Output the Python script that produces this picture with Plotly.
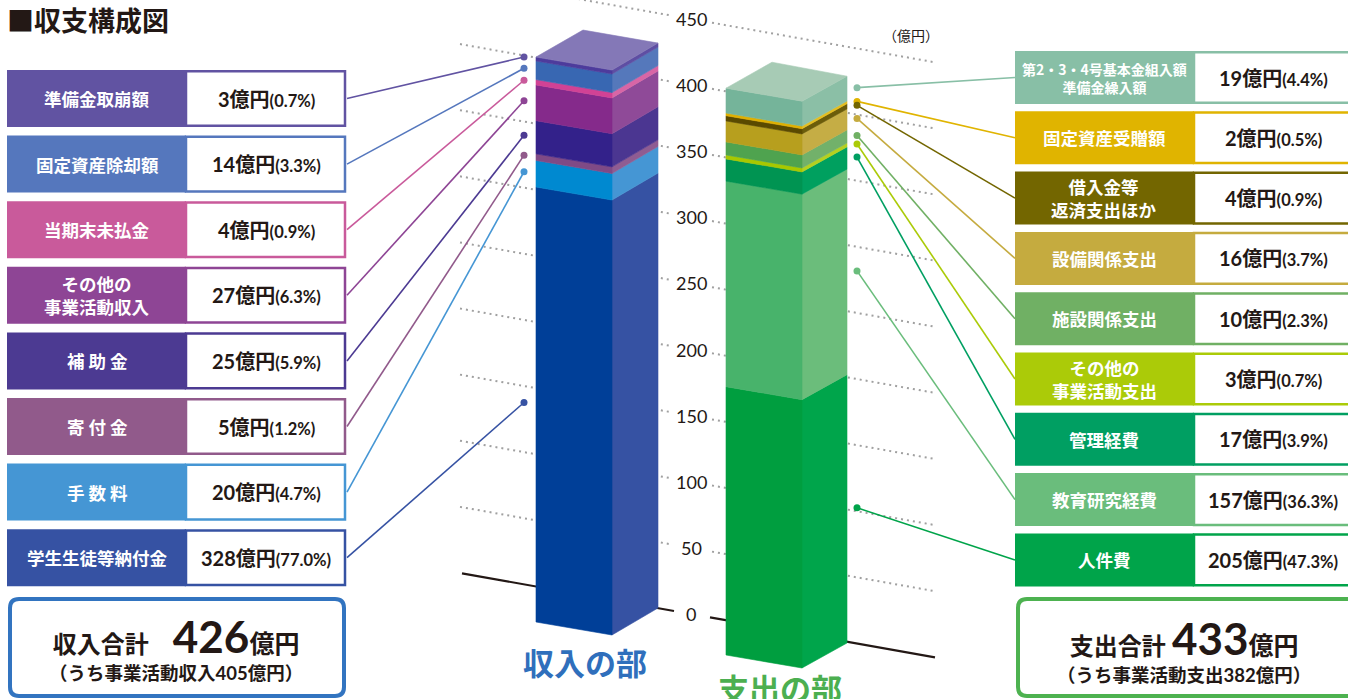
import plotly.graph_objects as go

# ---------------- data ----------------
income_labels = ["学生生徒等納付金", "手 数 料", "寄 付 金", "補 助 金",
                 "その他の<br>事業活動収入", "当期末未払金", "固定資産除却額", "準備金取崩額"]
income_values = [328, 20, 5, 25, 27, 4, 14, 3]
income_pct = ["77.0%", "4.7%", "1.2%", "5.9%", "6.3%", "0.9%", "3.3%", "0.7%"]

expense_labels = ["人件費", "教育研究経費", "管理経費", "その他の<br>事業活動支出", "施設関係支出",
                  "設備関係支出", "借入金等<br>返済支出ほか", "固定資産受贈額",
                  "第2・3・4号基本金組入額<br>準備金繰入額"]
expense_values = [205, 157, 17, 3, 10, 16, 4, 2, 19]
expense_pct = ["47.3%", "36.3%", "3.9%", "0.7%", "2.3%", "3.7%", "0.9%", "0.5%", "4.4%"]

income_total = 426
income_operating = 405
expense_total = 433
expense_operating = 382

tick_values = [0, 50, 100, 150, 200, 250, 300, 350, 400, 450]
unit_label = "（億円）"
title_text = "■収支構成図"
income_name = "収入の部"
expense_name = "支出の部"

# ---------------- styles ----------------
income_front = ["#003f98", "#0089d0", "#7f4a86", "#33218a", "#852a8b", "#d14295", "#3867b2", "#4d3b9c"]
income_side = ["#3652a3", "#4596d4", "#8f5c92", "#4b3691", "#8f4a98", "#d866a6", "#5578bb", "#5e4ea3"]
income_box = ["#3652a3", "#4596d4", "#915a8b", "#4c3a92", "#8e4595", "#c95a9b", "#5577bd", "#6153a2"]
income_top = "#8478b7"

expense_front = ["#009e3f", "#48b36b", "#009452", "#a8c800", "#4fa34f", "#b79f1e", "#5a4a00", "#e0b000", "#75b49a"]
expense_side = ["#00a54b", "#6bbd7b", "#00a05f", "#b4d020", "#72b16a", "#c5ad45", "#6b5c0a", "#e5be20", "#8bbfa6"]
expense_box = ["#00a44a", "#6abd7c", "#009f62", "#abcb08", "#70b064", "#c5ab3f", "#736600", "#e0b400", "#88bfa6"]
expense_top = "#a7cbb5"

JP = "Noto Sans CJK JP"
NUM = "Lato, Noto Sans CJK JP"

W, H = 1348, 699
S = 1.3222          # pixels per 億円 on the axis
Y0 = 614.0          # pixel row of value 0 at the axis column
X_AXIS = 691.0
GRID_SLOPE = 0.1776


def d(py):
    """pixel row -> data value on the y axis"""
    return (Y0 - py) / S


def grid_y(v, x):
    return v - GRID_SLOPE * (x - X_AXIS) / S


def px(x):
    return x / W


def py(y):
    return 1 - y / H


fig = go.Figure()

# ---------------- gridlines ----------------
for v in tick_values:
    if v == 0:
        segs = [(462, 674), (710, 935)]
        style = dict(color="#231815", width=2.2)
    else:
        segs = [(460, 672), (712, 935)]
        style = dict(color="#a0a0a0", width=2, dash="2px,4px")
    for xa, xb in segs:
        fig.add_trace(go.Scatter(x=[xa, xb], y=[grid_y(v, xa), grid_y(v, xb)], mode="lines",
                                 line=style, hoverinfo="skip", showlegend=False))


# ---------------- prisms ----------------
def poly(xs, ys, color):
    return go.Scatter(x=xs + [xs[0]], y=ys + [ys[0]], mode="lines", fill="toself", fillcolor=color,
                      line=dict(color=color, width=0.6), hoverinfo="skip", showlegend=False)


def prism(values, fronts, sides, top_color, corners, k):
    xs = {c: p[0] for c, p in corners.items()}
    off = {c: d(p[1]) for c, p in corners.items()}
    lo = 0
    for v, fc, sc in zip(values, fronts, sides):
        hi = lo + v
        fig.add_trace(poly([xs["fr"], xs["br"], xs["br"], xs["fr"]],
                           [lo * k + off["fr"], lo * k + off["br"], hi * k + off["br"], hi * k + off["fr"]], sc))
        fig.add_trace(poly([xs["fl"], xs["fr"], xs["fr"], xs["fl"]],
                           [lo * k + off["fl"], lo * k + off["fr"], hi * k + off["fr"], hi * k + off["fl"]], fc))
        lo = hi
    t = lo * k
    fig.add_trace(poly([xs["fl"], xs["fr"], xs["br"], xs["bl"]],
                       [t + off["fl"], t + off["fr"], t + off["br"], t + off["bl"]], top_color))


income_corners = {"fl": (536, 622), "fr": (612, 635), "br": (658, 608), "bl": (583, 595)}
expense_corners = {"fl": (726, 655), "fr": (802, 668), "br": (847, 643), "bl": (772, 629)}
K_IN, K_EX = 1.003, 0.99     # perspective depth factor of each bar
prism(income_values, income_front, income_side, income_top, income_corners, K_IN)
prism(expense_values, expense_front, expense_side, expense_top, expense_corners, K_EX)

# ---------------- tick labels ----------------
for v in tick_values:
    fig.add_annotation(x=X_AXIS, y=grid_y(v, X_AXIS), xref="x", yref="y", text=str(v), showarrow=False,
                       font=dict(family=NUM, size=18, color="#231815"), xanchor="center", yanchor="middle")


# ---------------- boxes + connectors ----------------
def value_text(v, p):
    return (f"<b>{v}億円</b><span style='font-size:16.5px'><b>({p})</b></span>")


# left (income) : top box is the top of the stack
n_in = len(income_values)
cum = 0
mids_in = []
for v in income_values:
    mids_in.append(cum + v / 2)
    cum += v
DOT_IN_X, DOT_IN_BASE = 524, 620
for j in range(n_in):
    i = n_in - 1 - j
    top = 70 + j * 65.6
    mid = top + 28.5
    col = income_box[i]
    fig.add_shape(type="rect", xref="paper", yref="paper", x0=px(186), x1=px(345), y0=py(top + 1.2),
                  y1=py(top + 55.8), line=dict(color=col, width=2.5), fillcolor="white")
    fig.add_shape(type="rect", xref="paper", yref="paper", x0=px(7), x1=px(186), y0=py(top), y1=py(top + 57),
                  line=dict(width=0), fillcolor=col)
    fig.add_annotation(x=px(97), y=py(mid), xref="paper", yref="paper", text=f"<b>{income_labels[i]}</b>",
                       showarrow=False, font=dict(family=JP, size=17.5, color="white"), xanchor="center",
                       yanchor="middle")
    fig.add_annotation(x=px(266), y=py(mid), xref="paper", yref="paper",
                       text=value_text(income_values[i], income_pct[i]), showarrow=False,
                       font=dict(family=NUM, size=20, color="#231815"), xanchor="center", yanchor="middle")
    dot_y = mids_in[i] * K_IN + d(DOT_IN_BASE)
    fig.add_trace(go.Scatter(x=[347, DOT_IN_X], y=[d(mid), dot_y], mode="lines",
                             line=dict(color=col, width=1.6), hoverinfo="skip", showlegend=False))
    fig.add_trace(go.Scatter(x=[DOT_IN_X], y=[dot_y], mode="markers", marker=dict(color=col, size=7),
                             hoverinfo="skip", showlegend=False))

# right (expense)
n_ex = len(expense_values)
cum = 0
mids_ex = []
for v in expense_values:
    mids_ex.append(cum + v / 2)
    cum += v
DOT_EX_X, DOT_EX_BASE = 857, 642
for j in range(n_ex):
    i = n_ex - 1 - j
    top = 51 + j * 60.3
    mid = top + 26.5
    col = expense_box[i]
    fig.add_shape(type="rect", xref="paper", yref="paper", x0=px(1194), x1=px(1370), y0=py(top + 1.2),
                  y1=py(top + 51.8), line=dict(color=col, width=2.5), fillcolor="white")
    fig.add_shape(type="rect", xref="paper", yref="paper", x0=px(1015), x1=px(1194), y0=py(top), y1=py(top + 53),
                  line=dict(width=0), fillcolor=col)
    fs = 14 if "基本金" in expense_labels[i] else 17.5
    fig.add_annotation(x=px(1104), y=py(mid), xref="paper", yref="paper", text=f"<b>{expense_labels[i]}</b>",
                       showarrow=False, font=dict(family=JP, size=fs, color="white"), xanchor="center",
                       yanchor="middle")
    fig.add_annotation(x=px(1273), y=py(mid), xref="paper", yref="paper",
                       text=value_text(expense_values[i], expense_pct[i]), showarrow=False,
                       font=dict(family=NUM, size=20, color="#231815"), xanchor="center", yanchor="middle")
    dot_y = mids_ex[i] * K_EX + d(DOT_EX_BASE)
    fig.add_trace(go.Scatter(x=[1015, DOT_EX_X], y=[d(mid), dot_y], mode="lines",
                             line=dict(color=col, width=1.6), hoverinfo="skip", showlegend=False))
    fig.add_trace(go.Scatter(x=[DOT_EX_X], y=[dot_y], mode="markers", marker=dict(color=col, size=7),
                             hoverinfo="skip", showlegend=False))


# ---------------- summary boxes ----------------
def rounded(x0, y0, x1, y1, r):
    X0, X1 = px(x0), px(x1)
    Y0_, Y1_ = py(y0), py(y1)
    rx, ry = r / W, r / H
    return (f"M {X0 + rx},{Y0_} L {X1 - rx},{Y0_} Q {X1},{Y0_} {X1},{Y0_ - ry} "
            f"L {X1},{Y1_ + ry} Q {X1},{Y1_} {X1 - rx},{Y1_} L {X0 + rx},{Y1_} "
            f"Q {X0},{Y1_} {X0},{Y1_ + ry} L {X0},{Y0_ - ry} Q {X0},{Y0_} {X0 + rx},{Y0_} Z")


fig.add_shape(type="path", xref="paper", yref="paper", path=rounded(10, 599, 344, 696, 9),
              line=dict(color="#3274c0", width=4), fillcolor="white")
fig.add_shape(type="path", xref="paper", yref="paper", path=rounded(1018, 599, 1375, 696, 9),
              line=dict(color="#4db250", width=4), fillcolor="white")


def summary_text(kind, total, sub_kind, sub_value, gap):
    return (f"<span style='font-size:24px'><b>{kind}合計</b></span>"
            f"<span style='font-size:24px'>{gap}</span>"
            f"<span style='font-size:44px'><b>{total}</b></span>"
            f"<span style='font-size:25px'><b>億円</b></span><br>"
            f"<span style='font-size:18.5px'><b>（うち事業活動{sub_kind}{sub_value}億円）</b></span>")


fig.add_annotation(x=px(176), y=py(647), xref="paper", yref="paper", showarrow=False,
                   text=summary_text("収入", income_total, "収入", income_operating, "　"),
                   font=dict(family=NUM, size=21, color="#231815"), xanchor="center", yanchor="middle")
fig.add_annotation(x=px(1184), y=py(649), xref="paper", yref="paper", showarrow=False,
                   text=summary_text("支出", expense_total, "支出", expense_operating, " "),
                   font=dict(family=NUM, size=21, color="#231815"), xanchor="center", yanchor="middle")

# ---------------- titles ----------------
fig.add_annotation(x=px(5), y=py(19), xref="paper", yref="paper", showarrow=False, text=f"<b>{title_text}</b>",
                   font=dict(family=JP, size=27, color="#231815"), xanchor="left", yanchor="middle")
fig.add_annotation(x=px(911), y=py(35), xref="paper", yref="paper", showarrow=False, text=unit_label,
                   font=dict(family=JP, size=14, color="#231815"), xanchor="center", yanchor="middle")
fig.add_annotation(x=px(585), y=py(661), xref="paper", yref="paper", showarrow=False, text=f"<b>{income_name}</b>",
                   font=dict(family=JP, size=31, color="#2f6fbc"), xanchor="center", yanchor="middle")
fig.add_annotation(x=px(780), y=py(687), xref="paper", yref="paper", showarrow=False, text=f"<b>{expense_name}</b>",
                   font=dict(family=JP, size=31, color="#4caf50"), xanchor="center", yanchor="middle")

fig.update_layout(
    width=W, height=H, margin=dict(l=0, r=0, t=0, b=0, pad=0),
    paper_bgcolor="white", plot_bgcolor="white", showlegend=False,
    xaxis=dict(range=[0, W], visible=False, fixedrange=True),
    yaxis=dict(range=[d(H), d(0)], visible=False, fixedrange=True, tickvals=tick_values),
)

fig.write_html("out.html", config={"displayModeBar": False},
               post_script="document.body.style.margin='0';document.body.style.overflow='hidden';")
